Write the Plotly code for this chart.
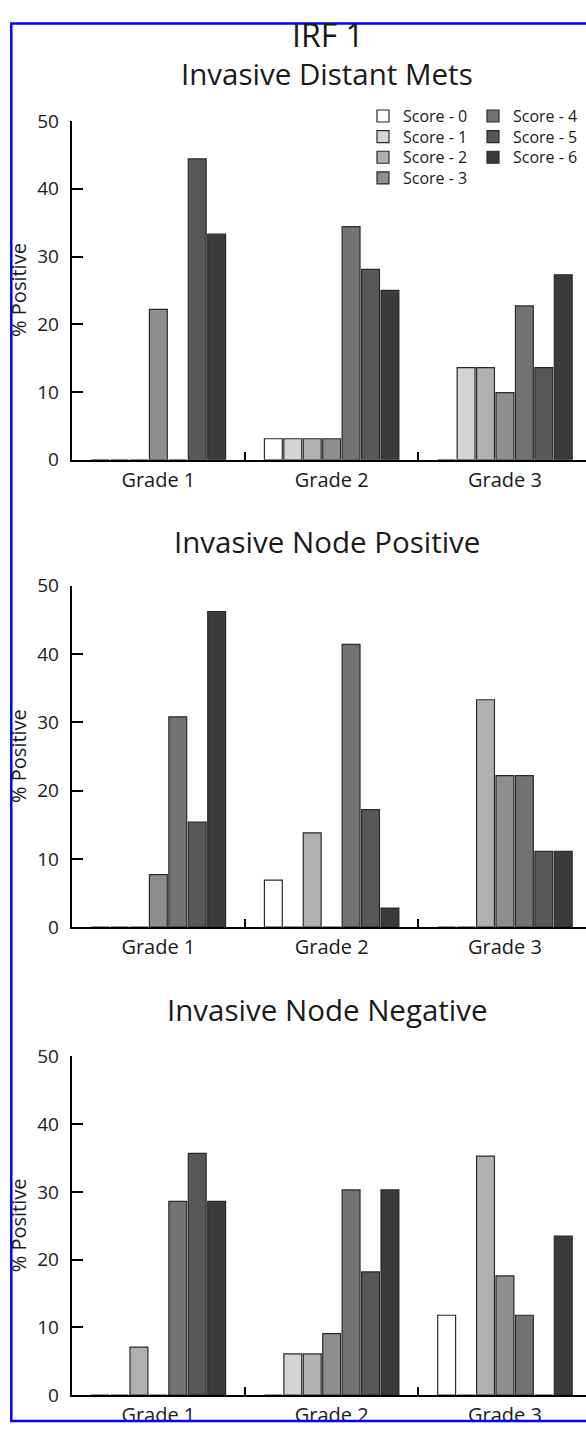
import plotly.graph_objects as go

W, H = 586, 1436

grades = ["Grade 1", "Grade 2", "Grade 3"]
scores = ["Score - 0", "Score - 1", "Score - 2", "Score - 3", "Score - 4", "Score - 5", "Score - 6"]
colors = ["#ffffff", "#d4d4d4", "#b0b0b0", "#8e8e8e", "#727272", "#575757", "#3b3b3b"]
panel_titles = ["Invasive Distant Mets", "Invasive Node Positive", "Invasive Node Negative"]
main_title = "IRF 1"
y_title = "% Positive"
y_ticks = [0, 10, 20, 30, 40, 50]

# values per grade (rows) and score (columns), % positive
distant_mets = [
    [0, 0, 0, 22.2, 0, 44.4, 33.3],
    [3.1, 3.1, 3.1, 3.1, 34.4, 28.1, 25.0],
    [0, 13.6, 13.6, 9.9, 22.7, 13.6, 27.3],
]
node_positive = [
    [0, 0, 0, 7.7, 30.8, 15.4, 46.2],
    [6.9, 0, 13.8, 0, 41.4, 17.2, 2.8],
    [0, 0, 33.3, 22.2, 22.2, 11.1, 11.1],
]
node_negative = [
    [0, 0, 7.1, 0, 28.6, 35.7, 28.6],
    [0, 6.1, 6.1, 9.1, 30.3, 18.2, 30.3],
    [11.8, 0, 35.3, 17.6, 11.8, 0, 23.5],
]
panels = [distant_mets, node_positive, node_negative]

FONT = "Open Sans"
TXT = "#1a1a1a"

def py(px):
    return 1 - px / H

# pixel geometry of each panel: (y of 0, y of 50)
panel_px = [(455, 110), (931, 583.3), (1407.7, 1062.7)]
x_left = 71.7
x_range = [-0.5, -0.5 + (W - x_left) / 173.3]

fig = go.Figure()
for p, data in enumerate(panels):
    sfx = "" if p == 0 else str(p + 1)
    for s, name in enumerate(scores):
        vals = [data[g][s] for g in range(len(grades))]
        fig.add_trace(go.Bar(
            x=list(range(len(grades))), y=vals, name=name,
            marker=dict(color=colors[s], line=dict(color="#2a2a2a", width=1.2)),
            xaxis="x" + sfx, yaxis="y" + sfx,
            showlegend=(p == 0),
            legend=("legend" if s == 0 else "legend%d" % (s + 1)),
            hoverinfo="skip",
        ))

layout = dict(
    width=W, height=H,
    margin=dict(l=0, r=0, t=0, b=0),
    paper_bgcolor="white", plot_bgcolor="white",
    barmode="group", bargap=0.215, bargroupgap=0.08,
    font=dict(family=FONT, color=TXT),
)

annotations = []
for p in range(3):
    sfx = "" if p == 0 else str(p + 1)
    z, f = panel_px[p]
    layout["xaxis" + sfx] = dict(
        domain=[x_left / W, 1], range=x_range, anchor="y" + sfx,
        tickmode="array", tickvals=list(range(len(grades))), ticktext=grades,
        ticks="", showline=True, linecolor="black", linewidth=2,
        showgrid=False, zeroline=False, fixedrange=True,
        tickfont=dict(size=20, family=FONT, color=TXT), ticklabelstandoff=1,
        minor=dict(tickmode="array", tickvals=[0.5, 1.5], ticks="inside",
                   ticklen=8, tickwidth=2, tickcolor="black", showgrid=False),
    )
    layout["yaxis" + sfx] = dict(
        domain=[py(z), py(f)], range=[0, 50], anchor="x" + sfx,
        tickmode="array", tickvals=y_ticks,
        ticks="inside", ticklen=11, tickwidth=2, tickcolor="black",
        showline=True, linecolor="black", linewidth=2,
        showgrid=False, zeroline=False, fixedrange=True,
        tickfont=dict(size=19, family=FONT, color=TXT), ticklabelstandoff=7,
    )
    annotations.append(dict(
        text=panel_titles[p], xref="paper", yref="paper",
        x=327 / W, y=py(z - 393), xanchor="center", yanchor="middle",
        showarrow=False, font=dict(size=29.5, family=FONT, color=TXT),
    ))
    annotations.append(dict(
        text=y_title, xref="paper", yref="paper", textangle=-90,
        x=18.5 / W, y=py((z + f) / 2), xanchor="center", yanchor="middle",
        showarrow=False, font=dict(size=20, family=FONT, color=TXT),
    ))
annotations.append(dict(
    text=main_title, xref="paper", yref="paper",
    x=328 / W, y=py(22), xanchor="center", yanchor="middle",
    showarrow=False, font=dict(size=32, family=FONT, color=TXT),
))
layout["annotations"] = annotations

# legends: two columns, one legend box per entry
leg_rows = [105, 126, 147, 168, 105, 126, 147]
leg_cols = [363, 363, 363, 363, 473, 473, 473]
for s in range(len(scores)):
    key = "legend" if s == 0 else "legend%d" % (s + 1)
    layout[key] = dict(
        x=leg_cols[s] / W, y=py(leg_rows[s]), xanchor="left", yanchor="middle",
        bgcolor="rgba(0,0,0,0)", borderwidth=0,
        font=dict(size=16, family=FONT, color=TXT),
    )

layout["shapes"] = [dict(
    type="rect", xref="paper", yref="paper",
    x0=11.3 / W, x1=1.05, y0=py(1434), y1=py(10.7),
    line=dict(color="#0000ff", width=2.5), fillcolor="rgba(0,0,0,0)", layer="above",
)]

fig.update_layout(**layout)
fig.write_html(
    "out.html",
    config={"displayModeBar": False, "staticPlot": True},
    post_script="document.body.style.margin='0';document.body.style.overflow='hidden';",
)
